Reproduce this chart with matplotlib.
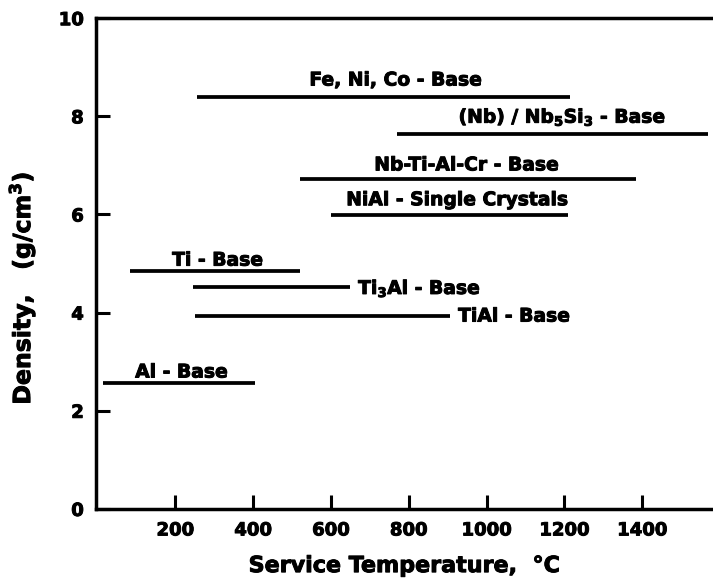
import numpy as np
import matplotlib
matplotlib.use("Agg")
import matplotlib.pyplot as plt
import matplotlib.patheffects as pe

# Alloy classes: service temperature range (deg C) and density (g/cm3)
alloys = ["Fe, Ni, Co - Base", "(Nb) / Nb$_5$Si$_3$ - Base", "Nb-Ti-Al-Cr - Base",
          "NiAl - Single Crystals", "Ti - Base", "Ti$_3$Al - Base",
          "TiAl - Base", "Al - Base"]
t_low = [255, 770, 520, 600, 83, 245, 250, 15]
t_high = [1215, 1570, 1385, 1210, 520, 650, 905, 405]
density = [8.4, 7.65, 6.72, 5.98, 4.84, 4.52, 3.93, 2.57]

x_ticks = [200, 400, 600, 800, 1000, 1200, 1400]
y_ticks = [0, 2, 4, 6, 8, 10]

# where each label sits (x, y, horizontal alignment)
label_pos = [(766, 8.74, "center"), (1195, 7.99, "center"), (949, 7.01, "center"),
             (925, 6.30, "center"), (309, 5.07, "center"), (670, 4.50, "left"),
             (927, 3.93, "left"), (216, 2.79, "center")]

plt.rcParams["font.family"] = ["DejaVu Sans"]
plt.rcParams["font.weight"] = "bold"
plt.rcParams["mathtext.fontset"] = "dejavusans"
plt.rcParams["mathtext.default"] = "bf"

# slightly heavier strokes on all text
heavy = [pe.withStroke(linewidth=0.7, foreground="black")]

fig = plt.figure(figsize=(7.13, 5.87), dpi=100)
ax = fig.add_axes([0.135, 0.133, 0.865, 0.836])

for lo, hi, d in zip(t_low, t_high, density):
    ax.plot([lo, hi], [d, d], color="black", lw=2.7, solid_capstyle="butt")

for name, (x, y, ha) in zip(alloys, label_pos):
    ax.text(x, y, name, ha=ha, va="center", fontsize=13.5, fontweight="bold",
            path_effects=heavy)

ax.set_xlim(-3, 1582)
ax.set_ylim(0, 10)
ax.set_xticks(x_ticks)
ax.set_yticks(y_ticks)
ax.tick_params(direction="in", length=10, width=2.2, labelsize=13, pad=9)
for lbl in ax.get_xticklabels() + ax.get_yticklabels():
    lbl.set_fontweight("bold")
    lbl.set_path_effects(heavy)

ax.spines["right"].set_visible(False)
for side in ["left", "bottom", "top"]:
    ax.spines[side].set_linewidth(2.5)

ax.set_xlabel("Service Temperature,  \u00b0C", fontsize=16, fontweight="bold",
              labelpad=12, path_effects=heavy)
ax.set_ylabel("Density,   (g/cm$^3$)", fontsize=17, fontweight="bold",
              path_effects=heavy)
ax.yaxis.set_label_coords(-0.095, 0.45)

fig.savefig("out.png", dpi=100)
